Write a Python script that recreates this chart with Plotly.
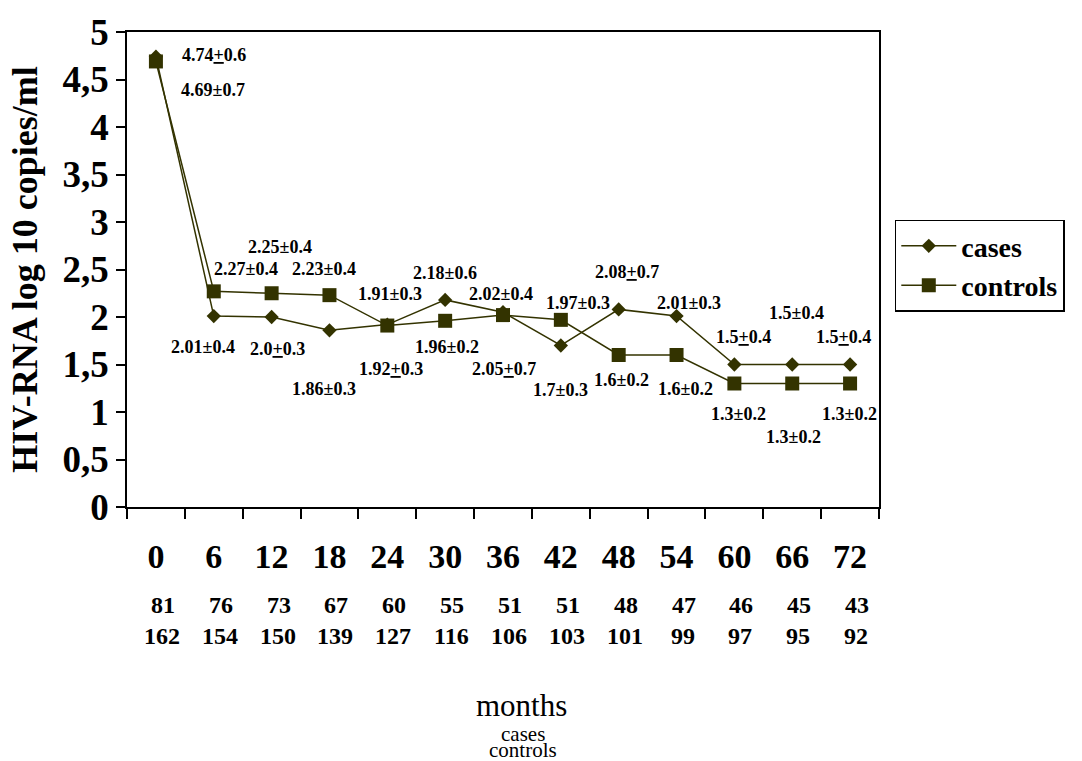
import plotly.graph_objects as go

months = ["0", "6", "12", "18", "24", "30", "36", "42", "48", "54", "60", "66", "72"]
cases_mean = [4.74, 2.01, 2.0, 1.86, 1.92, 2.18, 2.05, 1.7, 2.08, 2.01, 1.5, 1.5, 1.5]
controls_mean = [4.69, 2.27, 2.25, 2.23, 1.91, 1.96, 2.02, 1.97, 1.6, 1.6, 1.3, 1.3, 1.3]
cases_labels = ["4.74<u>+</u>0.6", "2.01±0.4", "2.0<u>+</u>0.3", "1.86±0.3", "1.92<u>+</u>0.3",
                "2.18±0.6", "2.05<u>+</u>0.7", "1.7±0.3", "2.08<u>+</u>0.7", "2.01±0.3",
                "1.5<u>+</u>0.4", "1.5±0.4", "1.5<u>+</u>0.4"]
controls_labels = ["4.69±0.7", "2.27±0.4", "2.25±0.4", "2.23±0.4", "1.91±0.3", "1.96±0.2",
                   "2.02±0.4", "1.97±0.3", "1.6±0.2", "1.6±0.2", "1.3±0.2", "1.3±0.2", "1.3±0.2"]
n_cases = [81, 76, 73, 67, 60, 55, 51, 51, 48, 47, 46, 45, 43]
n_controls = [162, 154, 150, 139, 127, 116, 106, 103, 101, 99, 97, 95, 92]

# label offsets in pixels (dx, dy with dy positive = downwards)
cases_off = [(58, -2), (-11, 31), (6, 32), (-5, 59), (4, 44), (0, -27), (1, 57),
             (0, 44), (8, -37), (12, -13), (9, -28), (4, -52), (-7, -28)]
controls_off = [(57, 29), (32, -22), (8, -46), (-5, -26), (3, -32), (2, 26), (-2, -21),
                (17, -17), (3, 25), (9, 34), (4, 30), (1, 53), (-1, 30)]

FONT = "Liberation Serif"
COL = "#333300"

fig = go.Figure()
fig.add_trace(go.Scatter(x=months, y=cases_mean, name="cases", mode="lines+markers",
                         line=dict(color=COL, width=1.5),
                         marker=dict(symbol="diamond", size=11, color=COL)))
fig.add_trace(go.Scatter(x=months, y=controls_mean, name="controls", mode="lines+markers",
                         line=dict(color=COL, width=1.5),
                         marker=dict(symbol="square", size=14, color=COL)))

ann = []
lab_font = dict(family=FONT, size=18, color="black", weight="bold")
for i, (v, t, (dx, dy)) in enumerate(zip(cases_mean, cases_labels, cases_off)):
    ann.append(dict(x=i, y=v, xref="x", yref="y", text=t, showarrow=False,
                    xshift=dx, yshift=-dy, font=lab_font))
for i, (v, t, (dx, dy)) in enumerate(zip(controls_mean, controls_labels, controls_off)):
    ann.append(dict(x=i, y=v, xref="x", yref="y", text=t, showarrow=False,
                    xshift=dx, yshift=-dy, font=lab_font))

cnt_font = dict(family=FONT, size=24, color="black", weight="bold")
for i, (a, b) in enumerate(zip(n_cases, n_controls)):
    ann.append(dict(x=i, y=0, xref="x", yref="paper", text=str(a), showarrow=False,
                    xshift=7, yshift=-98, yanchor="middle", font=cnt_font))
    ann.append(dict(x=i, y=0, xref="x", yref="paper", text=str(b), showarrow=False,
                    xshift=6, yshift=-129, yanchor="middle", font=cnt_font))

ann.append(dict(x=0.524, y=0, xref="paper", yref="paper", text="months", showarrow=False,
                yshift=-198, yanchor="middle", font=dict(family=FONT, size=31, color="black")))
ann.append(dict(x=0.527, y=0, xref="paper", yref="paper", text="cases", showarrow=False,
                yshift=-227, yanchor="middle", font=dict(family=FONT, size=21, color="black")))
ann.append(dict(x=0.526, y=0, xref="paper", yref="paper", text="controls", showarrow=False,
                yshift=-243, yanchor="middle", font=dict(family=FONT, size=21, color="black")))

fig.update_layout(
    width=1082, height=761, autosize=False,
    margin=dict(l=127, r=203, t=21, b=254),
    paper_bgcolor="white", plot_bgcolor="white",
    separators=", ",
    annotations=ann,
    legend=dict(x=1.021, y=0.605, xanchor="left", yanchor="top",
                bordercolor="black", borderwidth=1.5, bgcolor="white",
                font=dict(family=FONT, size=28, color="black", weight="bold"),
                itemwidth=55, tracegroupgap=0),
    xaxis=dict(type="category", categoryarray=months, range=[-0.5, 12.5],
               showline=True, mirror=True, linecolor="black", linewidth=1.5,
               ticks="outside", ticklen=10, tickwidth=1.5, tickcolor="black",
               tickson="boundaries", showgrid=False, zeroline=False,
               ticklabelstandoff=18,
               tickfont=dict(family=FONT, size=34, color="black", weight="bold")),
    yaxis=dict(range=[0, 5], dtick=0.5, tick0=0,
               showline=True, mirror=True, linecolor="black", linewidth=1.5,
               ticks="outside", ticklen=9, tickwidth=1.5, tickcolor="black",
               showgrid=False, zeroline=False,
               tickfont=dict(family=FONT, size=37, color="black", weight="bold"),
               title=dict(text="HIV-RNA log 10 copies/ml", standoff=14,
                          font=dict(family=FONT, size=36, color="black", weight="bold"))),
)

fig.write_html("out.html")
